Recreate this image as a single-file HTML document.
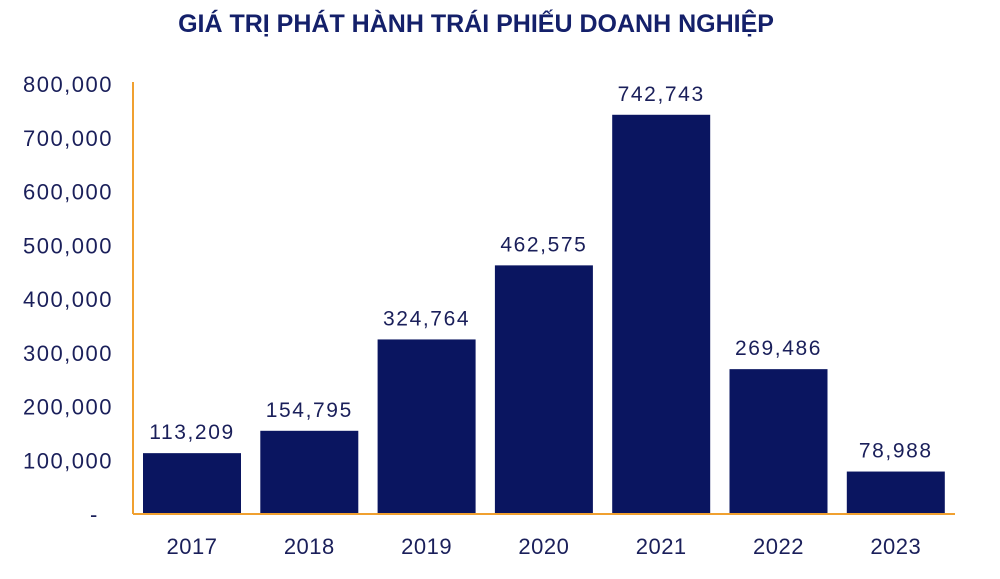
<!DOCTYPE html>
<html><head><meta charset="utf-8">
<style>
body{margin:0;background:#fff;width:1000px;height:574px;overflow:hidden;font-family:"Liberation Sans",sans-serif;}
svg text{font-family:"Liberation Sans",sans-serif;fill:#1a1f5a;}
</style></head>
<body>
<svg id="chart" width="1000" height="574" viewBox="0 0 1000 574">
<text x="476" y="32" text-anchor="middle" font-size="25" font-weight="bold" style="fill:#14206a">GIÁ TRỊ PHÁT HÀNH TRÁI PHIẾU DOANH NGHIỆP</text>
<g id="marks"></g>
</svg>
<script>
const categories=["2017","2018","2019","2020","2021","2022","2023"];
const values=[113209,154795,324764,462575,742743,269486,78988];
const valueLabels=["113,209","154,795","324,764","462,575","742,743","269,486","78,988"];
const yTicks=[0,100000,200000,300000,400000,500000,600000,700000,800000];
const yTickLabels=["-","100,000","200,000","300,000","400,000","500,000","600,000","700,000","800,000"];
const NS="http://www.w3.org/2000/svg";
const g=document.getElementById('marks');
const x0=133,x1=955,y0=514,yTop=84,yMax=800000;
const y=v=>y0-(v/yMax)*(y0-yTop);
const step=117.3,bw=98,firstX=143;
const xb=i=>firstX+i*step;
function mk(t,a){const e=document.createElementNS(NS,t);for(const k in a)e.setAttribute(k,a[k]);g.appendChild(e);return e;}
yTicks.forEach((v,i)=>{
 const t=mk('text',{x:i===0?90:113,y:y(v)+8,'text-anchor':i===0?'start':'end','font-size':22,'letter-spacing':1.5});
 t.textContent=yTickLabels[i];
 
 
});
values.forEach((v,i)=>{
 const r=mk('rect',{x:xb(i),y:y(v),width:bw,height:y0-y(v),fill:'#0a1560'});
 
 
 const l=mk('text',{x:xb(i)+bw/2,y:y(v)-14,'text-anchor':'middle','font-size':21,'letter-spacing':1.6});
 l.textContent=valueLabels[i];
 
 
 const c=mk('text',{x:xb(i)+bw/2,y:554,'text-anchor':'middle','font-size':22,'letter-spacing':0.5});
 c.textContent=categories[i];
 
 
});
const ya=mk('line',{x1:x0,y1:82,x2:x0,y2:y0,stroke:'#f0a030','stroke-width':2});


const xa=mk('line',{x1:x0,y1:y0,x2:x1,y2:y0,stroke:'#f0a030','stroke-width':2});


</script>
</body></html>
